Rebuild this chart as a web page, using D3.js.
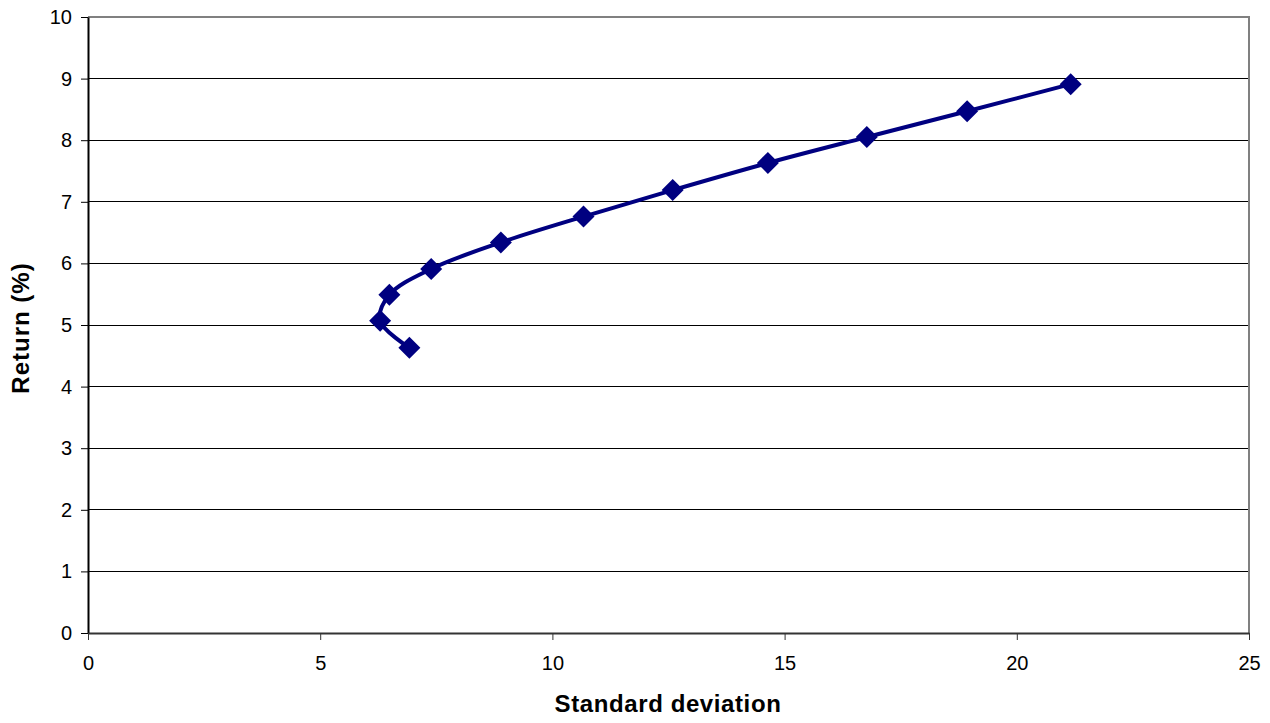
<!DOCTYPE html>
<html>
<head>
<meta charset="utf-8">
<script src="https://cdn.jsdelivr.net/npm/d3@7"></script>
<style>
  body { margin: 0; background: #fff; }
  text { font-family: "Liberation Sans", Arial, sans-serif; }
</style>
</head>
<body>
<svg width="1270" height="723"></svg>
<script>
// frontier points
var stdDev = [6.92, 6.29, 6.49, 7.39, 8.89, 10.67, 12.59, 14.64, 16.77, 18.93, 21.16];
var returns = [4.63, 5.07, 5.49, 5.91, 6.34, 6.76, 7.19, 7.63, 8.05, 8.47, 8.91];
var xTicks = [0, 5, 10, 15, 20, 25];
var yTicks = [0, 1, 2, 3, 4, 5, 6, 7, 8, 9, 10];

var data = stdDev.map((d, i) => [d, returns[i]]);

var svg = d3.select("svg");
var mLeft = 88, mRight = 1249, mTop = 17, mBottom = 633;

var x = d3.scaleLinear().domain([0, 25]).range([mLeft, mRight]);
var y = d3.scaleLinear().domain([0, 10]).range([mBottom, mTop]);

// gridlines
svg.append("g")
  .selectAll("line")
  .data(yTicks.filter(d => d > 0 && d < 10))
  .enter().append("line")
  .attr("x1", mLeft).attr("x2", mRight)
  .attr("y1", d => y(d)).attr("y2", d => y(d))
  .attr("stroke", "#000")
  .attr("stroke-width", 1)
  .attr("shape-rendering", "crispEdges");

// plot border (top, right gray)
svg.append("path")
  .attr("d", `M${mLeft},${mTop}H${mRight}V${mBottom}`)
  .attr("fill", "none")
  .attr("stroke", "#808080")
  .attr("stroke-width", 2)
  .attr("shape-rendering", "crispEdges");

var yAxis = svg.append("g")
  .attr("transform", `translate(${mLeft},0)`)
  .call(d3.axisLeft(y).tickValues(yTicks).tickSize(7).tickPadding(9).tickSizeOuter(0));
yAxis.select(".domain").attr("stroke", "#000").attr("stroke-width", 2);
yAxis.selectAll(".tick line").attr("stroke", "#000");
yAxis.selectAll("text").attr("font-size", 20).attr("fill", "#000")
  .attr("font-family", "Liberation Sans, Arial, sans-serif");

var xAxis = svg.append("g")
  .attr("transform", `translate(0,${mBottom})`)
  .call(d3.axisBottom(x).tickValues(xTicks).tickSize(7).tickPadding(16).tickSizeOuter(0));
xAxis.select(".domain").attr("stroke", "#333").attr("stroke-width", 2);
xAxis.selectAll(".tick line").attr("stroke", "#333");
xAxis.selectAll("text").attr("font-size", 20).attr("fill", "#000")
  .attr("font-family", "Liberation Sans, Arial, sans-serif");

// smoothed line
var line = d3.line()
  .x(d => x(d[0]))
  .y(d => y(d[1]))
  .curve(d3.curveCatmullRom.alpha(0.5));

svg.append("path")
  .datum(data)
  .attr("d", line)
  .attr("fill", "none")
  .attr("stroke", "#000080")
  .attr("stroke-width", 4);

// diamond markers
svg.append("g")
  .selectAll("path")
  .data(data)
  .enter().append("path")
  .attr("transform", d => `translate(${x(d[0])},${y(d[1])})`)
  .attr("d", "M0,-11L11,0L0,11L-11,0Z")
  .attr("fill", "#000080");

// axis titles
svg.append("text")
  .attr("x", 668)
  .attr("y", 712)
  .attr("text-anchor", "middle")
  .attr("font-size", 24)
  .attr("letter-spacing", 0.6)
  .attr("font-weight", "bold")
  .text("Standard deviation");

svg.append("text")
  .attr("transform", "translate(29,328) rotate(-90)")
  .attr("text-anchor", "middle")
  .attr("font-size", 24)
  .attr("letter-spacing", 1)
  .attr("font-weight", "bold")
  .text("Return (%)");
</script>
</body>
</html>
